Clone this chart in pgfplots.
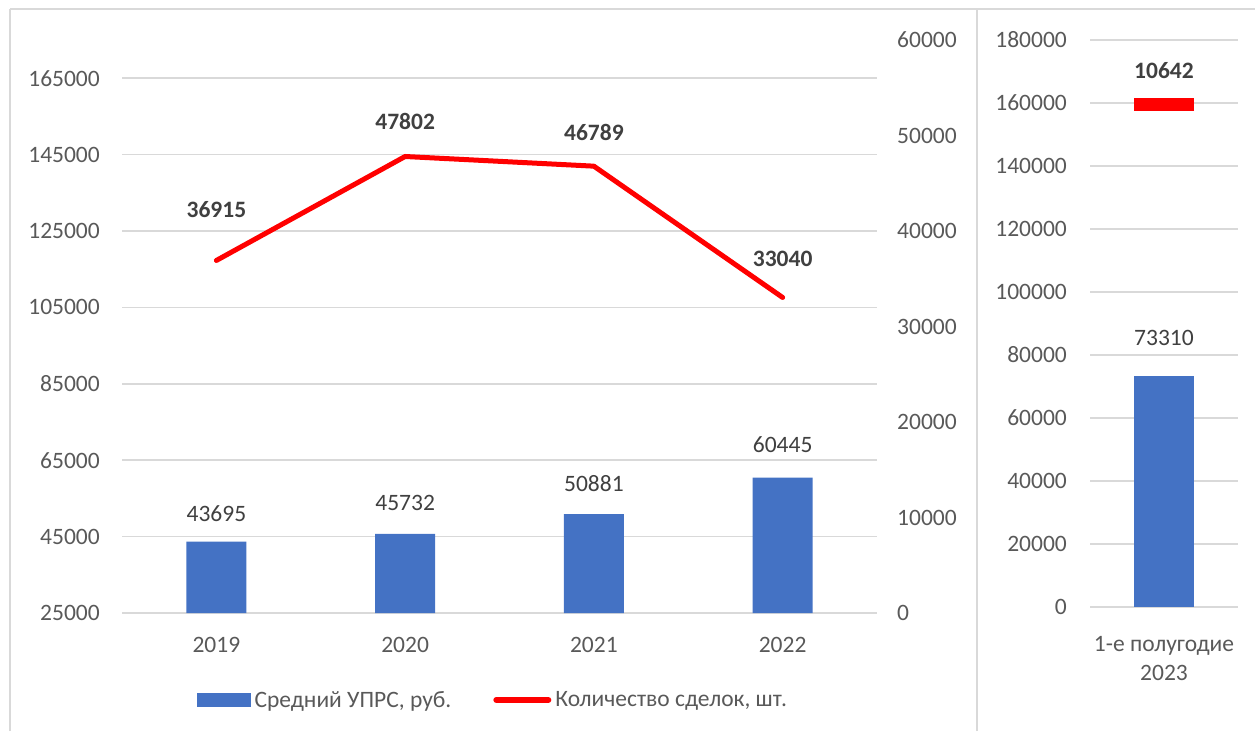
\documentclass[border=0pt]{standalone}
\usepackage{pgfplots}
\usepackage{pgfplotstable}
\pgfplotsset{compat=1.18}
\usepackage{fontspec}
\setmainfont{Carlito}
\definecolor{barblue}{HTML}{4472C4}
\definecolor{gridgray}{HTML}{D9D9D9}
\definecolor{txtgray}{HTML}{595959}
\definecolor{lblgray}{HTML}{404040}
\newcommand{\fs}{\fontsize{23.5pt}{29pt}\selectfont}
\pgfplotstableread{
x y s
0 43695 20
1 45732 23
2 50881 22
3 60445 25
}\bardata
\pgfplotstableread{
x y s
0 36915 40
1 47802 24
2 46789 23
3 33040 28
}\linedata
\pgfplotsset{
  mybase/.style={
    scale only axis, anchor=south west, font=\fs,
    scaled y ticks=false,
    /pgf/number format/assume math mode=true,
    /pgf/number format/1000 sep={},
    /pgf/number format/fixed,
    major tick length=0pt, tick style={draw=none},
    axis line style={draw=none},
    ticklabel style={text=txtgray, font=\fs},
  }
}
\begin{document}
\begin{tikzpicture}[x=1pt,y=1pt]
\useasboundingbox (0,0) rectangle (1255,731);
\draw[gridgray, line width=2pt] (10,722) -- (1255,722);
\draw[gridgray, line width=2pt] (10,0) -- (10,722);
\draw[gridgray, line width=2pt] (977,0) -- (977,722);

% left panel: bars
\begin{axis}[mybase, at={(122pt,118pt)}, width=755pt, height=573pt,
  xmin=-0.5, xmax=3.5, ymin=25000, ymax=175000,
  ytick={25000,45000,...,165000},
  xtick={0,1,2,3}, xticklabels={2019,2020,2021,2022},
  xticklabel style={inner sep=0pt, yshift=-24pt},
  yticklabel style={inner sep=0pt, xshift=-22pt},
  ymajorgrids, grid style={gridgray, line width=1.6pt},
  legend style={draw=none, fill=none, at={(0.0993,-0.1518)}, anchor=west,
    legend columns=2, font=\fs, text=txtgray, inner sep=0pt,
    nodes={inner sep=4pt},
    /tikz/every even column/.append style={column sep=38pt}},
  legend cell align=left,
]
\addplot[ybar, bar width=60pt, fill=barblue, draw=none, forget plot,
  visualization depends on={\thisrow{s}\as\myshift},
  nodes near coords,
  every node near coord/.append style={font=\fs, text=lblgray, anchor=south, inner sep=0pt, yshift=\myshift pt}]
  table[x=x, y=y] {\bardata};
\addlegendimage{legend image code/.code={\fill[barblue] (0pt,-6.5pt) rectangle (53pt,6.5pt);}}
\addlegendentry{Средний УПРС, руб.}
\addlegendimage{legend image code/.code={\draw[red, line width=6pt, line cap=round] (3pt,0pt) -- (55pt,0pt);}}
\addlegendentry{Количество сделок, шт.}
\end{axis}

% left panel: line on secondary axis
\begin{axis}[mybase, at={(122pt,118pt)}, width=755pt, height=573pt,
  xmin=-0.5, xmax=3.5, ymin=0, ymax=60000,
  ytick={0,10000,...,60000}, xtick=\empty,
  yticklabel pos=right,
  yticklabel style={anchor=west, inner sep=0pt, xshift=20pt},
  clip=false,
]
\addplot[red, line width=5pt, line join=round, line cap=round,
  visualization depends on={\thisrow{s}\as\myshift},
  nodes near coords,
  every node near coord/.append style={font=\fs\bfseries, text=lblgray, anchor=south, inner sep=0pt, yshift=\myshift pt}]
  table[x=x, y=y] {\linedata};
\end{axis}

% right panel: bar
\begin{axis}[mybase, at={(1090pt,124pt)}, width=148pt, height=567pt,
  xmin=-0.5, xmax=0.5, ymin=0, ymax=180000,
  ytick={0,20000,...,180000},
  xtick={0}, xticklabels={{1-е полугодие\\2023}},
  xticklabel style={align=center, inner sep=0pt, yshift=-29pt},
  yticklabel style={inner sep=0pt, xshift=-23pt},
  ymajorgrids, grid style={gridgray, line width=1.6pt},
  clip=false,
]
\addplot[ybar, bar width=60pt, fill=barblue, draw=none,
  nodes near coords,
  every node near coord/.append style={font=\fs, text=lblgray, anchor=south, inner sep=0pt, yshift=30pt}]
  coordinates {(0,73310)};
\end{axis}

% right panel: line value on hidden secondary axis
\begin{axis}[mybase, at={(1090pt,124pt)}, width=148pt, height=567pt,
  xmin=-0.5, xmax=0.5, ymin=0, ymax=12000, hide axis, clip=false]
\addplot[red, only marks, mark=-, mark size=30pt, mark options={line width=13pt},
  nodes near coords,
  every node near coord/.append style={font=\fs\bfseries, text=lblgray, anchor=south, inner sep=0pt, yshift=19pt}]
  coordinates {(0,10642)};
\end{axis}
\end{tikzpicture}
\end{document}
